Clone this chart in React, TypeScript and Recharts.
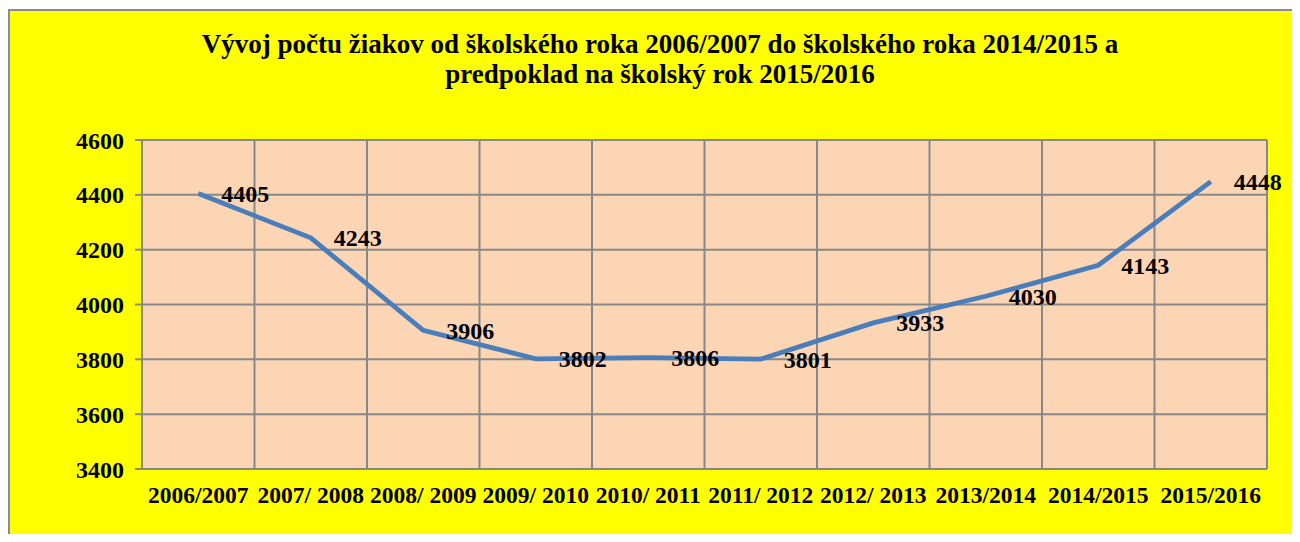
import React from "react";
import { LineChart, Line, XAxis, YAxis, CartesianGrid, LabelList } from "recharts";

const years = ["2006/2007", "2007/ 2008", "2008/ 2009", "2009/ 2010", "2010/ 2011", "2011/ 2012", "2012/ 2013", "2013/2014", "2014/2015", "2015/2016"];
const pupils = [4405, 4243, 3906, 3802, 3806, 3801, 3933, 4030, 4143, 4448];
const yTicks = [3400, 3600, 3800, 4000, 4200, 4400, 4600];
const boundaryTicks = [0, 1, 2, 3, 4, 5, 6, 7, 8, 9, 10];
const titleLines = [
  "Vývoj počtu žiakov od školského roka 2006/2007 do školského roka 2014/2015 a",
  "predpoklad na školský rok 2015/2016",
];

const data = years.map((y, i) => ({ year: y, pos: i + 0.5, value: pupils[i] }));

const FONT = '"Liberation Serif", "Times New Roman", serif';
const GRID = "#888888";

const EmptyTick = () => <g />;

export default function App() {
  return (
    <div style={{ width: 1292, height: 526, overflow: "hidden", position: "relative" }}>
      <div
        style={{
          position: "absolute",
          left: 0,
          top: 1,
          width: 1300,
          height: 560,
          background: "#FFFF00",
          border: "2px solid #8c8c8c",
          fontFamily: FONT,
        }}
      >
        <div
          style={{
            position: "absolute",
            left: 0,
            top: 18,
            width: 1300,
            textAlign: "center",
            fontWeight: "bold",
            fontSize: 27,
            lineHeight: "30px",
            color: "#000",
          }}
        >
          {titleLines.map((t) => (
            <div key={t}>{t}</div>
          ))}
        </div>
        <LineChart
          width={1300}
          height={540}
          data={data}
          margin={{ top: 129, right: 43, bottom: 22, left: 72 }}
          style={{ position: "absolute", left: 0, top: 0 }}
        >
          <CartesianGrid
            xAxisId="g"
            stroke={GRID}
            strokeWidth={2}
            fill="#FCD5B5"
            fillOpacity={1}
          />
          <XAxis
            xAxisId="g"
            type="number"
            dataKey="pos"
            domain={[0, 10]}
            ticks={boundaryTicks}
            interval={0}
            allowDataOverflow
            tick={EmptyTick}
            tickSize={7}
            height={0}
            axisLine={{ stroke: GRID, strokeWidth: 2 }}
            tickLine={{ stroke: GRID, strokeWidth: 2 }}
          />
          <XAxis
            xAxisId="c"
            dataKey="year"
            scale="band"
            interval={0}
            height={60}
            axisLine={false}
            tickLine={false}
            tickMargin={11}
            tick={{ fill: "#000", fontSize: 23.5, fontWeight: "bold", fontFamily: FONT }}
          />
          <YAxis
            domain={[3400, 4600]}
            ticks={yTicks}
            width={60}
            tickSize={7}
            tickMargin={11}
            axisLine={{ stroke: GRID, strokeWidth: 2 }}
            tickLine={{ stroke: GRID, strokeWidth: 2 }}
            tick={{ fill: "#000", fontSize: 24, fontWeight: "bold", fontFamily: FONT }}
          />
          <Line
            xAxisId="c"
            type="linear"
            dataKey="value"
            stroke="#4A7EBB"
            strokeWidth={4.8}
            dot={false}
            isAnimationActive={false}
          >
            <LabelList
              dataKey="value"
              position="right"
              offset={23}
              style={{ fill: "#000", fontSize: 24, fontWeight: "bold", fontFamily: FONT }}
            />
          </Line>
        </LineChart>
      </div>
    </div>
  );
}
